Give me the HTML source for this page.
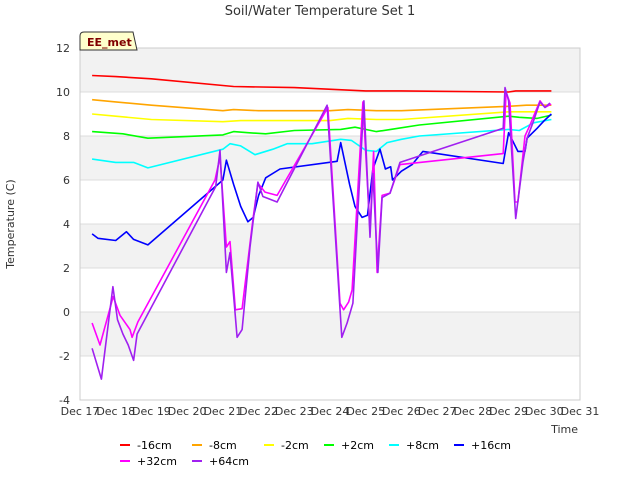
<!DOCTYPE html>
<html><head><meta charset="utf-8"><style>
body{margin:0;background:#fff;font-family:"Liberation Sans","DejaVu Sans",sans-serif}
svg text{font-family:"DejaVu Sans","Liberation Sans",sans-serif}
</style></head><body>
<svg id="c" width="640" height="480" xmlns="http://www.w3.org/2000/svg">
<rect width="640" height="480" fill="#fff"/>
<text x="320" y="15" text-anchor="middle" font-size="13" fill="#333">Soil/Water Temperature Set 1</text>
<g id="bands"></g><g id="grid"></g>
<rect x="80" y="48" width="500" height="352" fill="none" stroke="#ccc"/>
<g id="ticks"></g>
<g id="series"></g>
<text x="14" y="224" transform="rotate(-90 14 224)" text-anchor="middle" font-size="11" fill="#333">Temperature (C)</text>
<text x="578" y="433" text-anchor="end" font-size="11" fill="#333">Time</text>
<g><path d="M80,50 L80,36 Q80,32 84,32 L133,32 L137,50 Z" fill="#ffffcc" stroke="#333"/>
<text x="87" y="46" font-size="11" font-weight="bold" fill="#800000">EE_met</text></g>
<g id="legend"></g>
</svg>
<script>
const yTicks=[-4,-2,0,2,4,6,8,10,12];
const xTickLabels=["Dec 17","Dec 18","Dec 19","Dec 20","Dec 21","Dec 22","Dec 23","Dec 24","Dec 25","Dec 26","Dec 27","Dec 28","Dec 29","Dec 30","Dec 31"];
const names=["-16cm","-8cm","-2cm","+2cm","+8cm","+16cm","+32cm","+64cm"];
const colors=["#ff0000","#ffa500","#ffff00","#00ff00","#00ffff","#0000ff","#ff00ff","#a020f0"];
const t16m=[0.34,1,2,4.3,6,8,9,12,12.2,13.2];
const v16m=[10.75,10.7,10.6,10.25,10.2,10.05,10.05,10.0,10.05,10.05];
const t8m=[0.34,1,2,4,4.3,5,7,7.5,8.3,9,12,12.5,13.2];
const v8m=[9.65,9.55,9.4,9.15,9.2,9.15,9.15,9.2,9.15,9.15,9.35,9.4,9.4];
const t2m=[0.34,1,2,4,4.5,7,7.5,8.3,9,12,13.2];
const v2m=[9.0,8.9,8.75,8.65,8.7,8.7,8.8,8.75,8.75,9.1,9.1];
const t2p=[0.34,1.2,1.9,4,4.3,4.7,5.2,6,7.3,7.7,8.3,8.7,9.5,12,12.3,12.8,13.2];
const v2p=[8.2,8.1,7.9,8.05,8.2,8.15,8.1,8.25,8.3,8.4,8.2,8.3,8.5,8.9,8.85,8.8,8.95];
const t8p=[0.34,1,1.5,1.9,4.0,4.2,4.5,4.9,5.4,5.8,6.5,7.3,7.6,8.0,8.3,8.6,9.0,9.5,12.0,12.3,12.7,13.2];
const v8p=[6.95,6.8,6.8,6.55,7.4,7.65,7.55,7.15,7.4,7.65,7.65,7.85,7.8,7.35,7.3,7.7,7.85,8.0,8.3,8.25,8.6,8.75];
const t16p=[0.34,0.5,1.0,1.3,1.5,1.9,4.0,4.1,4.3,4.5,4.7,4.85,5.0,5.2,5.6,7.2,7.3,7.55,7.7,7.9,8.05,8.2,8.4,8.55,8.7,8.75,9.0,9.3,9.6,11.85,12.0,12.26,12.46,12.52,12.8,13.0,13.2];
const v16p=[3.55,3.35,3.25,3.65,3.3,3.05,6.0,6.9,5.8,4.8,4.1,4.3,5.3,6.1,6.5,6.85,7.7,5.8,4.8,4.3,4.4,6.5,7.4,6.5,6.6,6.0,6.4,6.7,7.3,6.75,8.15,7.3,7.3,7.9,8.35,8.7,9.0];
const t32p=[0.34,0.56,0.93,1.12,1.4,1.46,1.62,3.78,3.92,4.1,4.2,4.35,4.54,4.84,4.98,5.18,5.52,6.94,7.28,7.38,7.52,7.62,7.92,8.12,8.22,8.32,8.46,8.68,8.96,9.52,11.85,11.93,12.04,12.18,12.26,12.46,12.6,12.88,13.02,13.19];
const v32p=[-0.5,-1.5,0.7,-0.15,-0.8,-1.15,-0.45,6.0,7.05,2.95,3.2,0.1,0.15,4.2,5.85,5.45,5.3,9.3,0.4,0.1,0.45,1.0,9.55,3.7,7.3,1.8,5.3,5.4,6.7,6.8,7.2,10.0,9.5,5.0,5.0,8.0,8.5,9.6,9.3,9.45];
const t64p=[0.34,0.6,0.92,1.05,1.2,1.35,1.5,1.6,3.8,3.92,4.1,4.2,4.4,4.54,4.76,4.98,5.12,5.52,6.92,7.33,7.48,7.64,7.95,8.12,8.2,8.34,8.46,8.68,8.96,11.85,11.9,12.0,12.2,12.4,12.52,12.68,12.88,13.02,13.16];
const v64p=[-1.65,-3.05,1.15,-0.35,-1.0,-1.5,-2.2,-1.0,5.7,7.35,1.8,2.7,-1.15,-0.8,2.95,5.9,5.25,5.0,9.4,-1.15,-0.5,0.4,9.6,3.4,6.3,1.8,5.2,5.4,6.8,8.35,10.2,9.6,4.25,6.8,7.9,8.6,9.55,9.3,9.5];
const seriesT=[t16m,t8m,t2m,t2p,t8p,t16p,t32p,t64p];
const seriesV=[v16m,v8m,v2m,v2p,v8p,v16p,v32p,v64p];
const NS="http://www.w3.org/2000/svg";
const X0=80,X1=580,Y0=400,Y1=48;
function xs(t){return X0+t*(X1-X0)/14;}
function ys(v){return Y0-(v+4)*(Y0-Y1)/16;}
function mk(tag,attrs,parent){const e=document.createElementNS(NS,tag);for(const k in attrs)e.setAttribute(k,attrs[k]);parent.appendChild(e);return e;}
const bands=document.getElementById('bands'),grid=document.getElementById('grid'),ticks=document.getElementById('ticks');
for(let i=0;i<yTicks.length-1;i++){
 if(i%2===1){const r=mk('rect',{x:X0,y:ys(yTicks[i+1]),width:X1-X0,height:ys(yTicks[i])-ys(yTicks[i+1]),fill:'#f2f2f2'},bands);
 
 }
}
yTicks.forEach(v=>{
 const l=mk('line',{x1:X0,x2:X1,y1:ys(v),y2:ys(v),stroke:'#dcdcdc'},grid);
 
 
 const t=mk('text',{x:70,y:ys(v)+4,'text-anchor':'end','font-size':11,fill:'#333'},ticks);
 t.textContent=v;
 
 
});
xTickLabels.forEach((s,i)=>{
 const t=mk('text',{x:xs(i),y:415,'text-anchor':'middle','font-size':11,fill:'#333'},ticks);
 t.textContent=s;
 
 
});
const sg=document.getElementById('series');
seriesT.forEach((T,i)=>{
 const d=T.map((t,j)=>(j?'L':'M')+xs(t).toFixed(1)+','+ys(seriesV[i][j]).toFixed(1)).join(' ');
 const p=mk('path',{d:d,fill:'none',stroke:colors[i],'stroke-width':1.6,'stroke-linejoin':'round'},sg);
 
 
});
const lg=document.getElementById('legend');
const lx=[118,190,262,322,387,452,118,190],ly=[445,445,445,445,445,445,461,461];
names.forEach((n,i)=>{
 const g=mk('g',{},lg);
 
 
 mk('line',{x1:lx[i]+2,x2:lx[i]+12,y1:ly[i],y2:ly[i],stroke:colors[i],'stroke-width':2},g);
 const t=mk('text',{x:lx[i]+19,y:ly[i]+4,'font-size':11,fill:'#000'},g);
 t.textContent=n;
});
</script>
</body></html>
